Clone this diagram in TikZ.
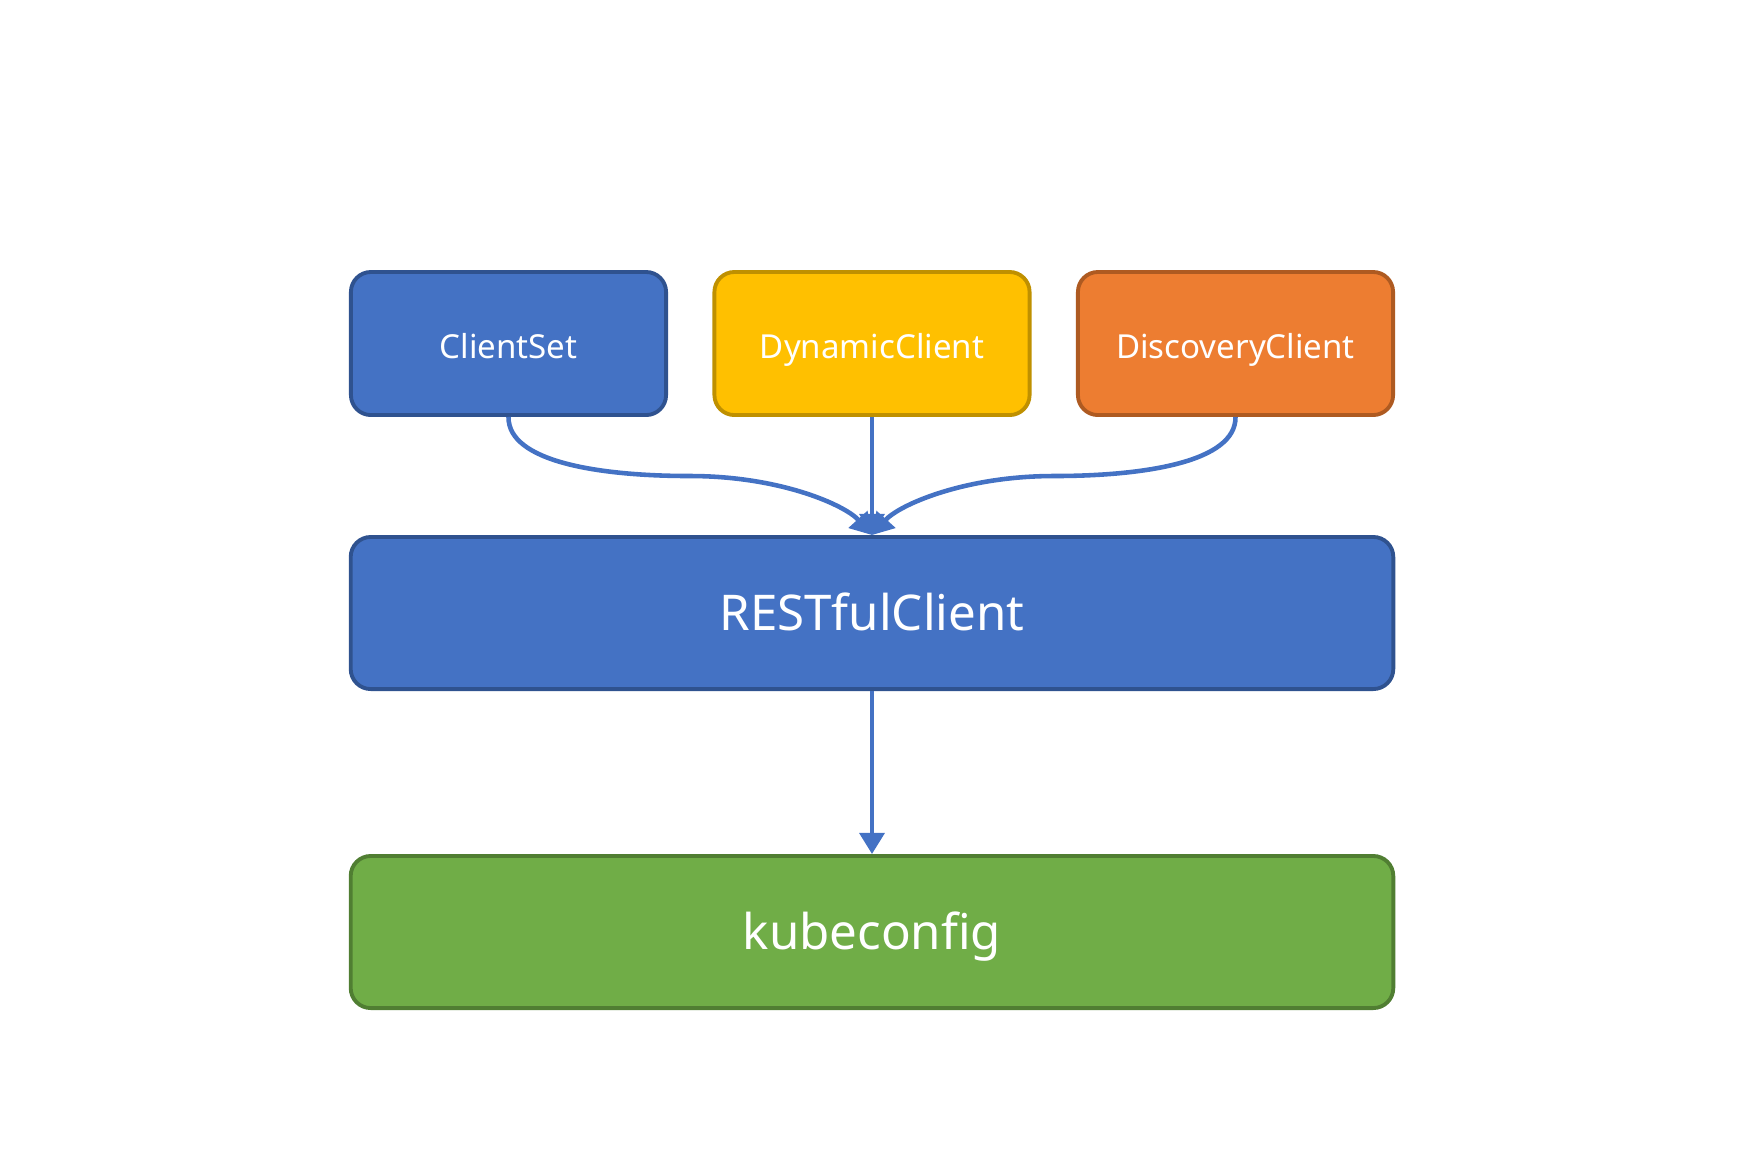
\documentclass[tikz,border=0pt]{standalone}
\usepackage{fontspec}
\setmainfont{Noto Sans}
\usetikzlibrary{arrows.meta}

\definecolor{blueFill}{HTML}{4472C4}
\definecolor{blueLine}{HTML}{2F528F}
\definecolor{yellowFill}{HTML}{FFC000}
\definecolor{yellowLine}{HTML}{BF9000}
\definecolor{orangeFill}{HTML}{ED7D31}
\definecolor{orangeLine}{HTML}{AE5A21}
\definecolor{greenFill}{HTML}{70AD47}
\definecolor{greenLine}{HTML}{507E32}

\tikzset{
    smallbox/.style={draw, line width=1.1pt, rounded corners=0.2cm, text=white,
        minimum width=3.15cm, minimum height=1.43cm, inner sep=0pt,
        text height=1.6ex, text depth=0ex,
        font=\fontsize{9.4}{11}\selectfont},
    bigbox/.style={draw, line width=1.1pt, rounded corners=0.2cm, text=white,
        minimum width=10.42cm, minimum height=1.52cm, inner sep=0pt,
        text height=1.9ex, text depth=0ex,
        font=\fontsize{14}{17}\selectfont},
    link/.style={draw=blueFill, line width=1.3pt, -{Triangle[width=7pt,length=6pt]}}
}

\begin{document}
\begin{tikzpicture}[x=0.01cm,y=-0.01cm]
        \useasboundingbox (0,0) rectangle (1754,1162);
        \node[smallbox, fill=blueFill, draw=blueLine] (clientset) at (508.5,343.5) {ClientSet};
        \node[smallbox, fill=yellowFill, draw=yellowLine] (dynamic) at (872,343.5) {DynamicClient};
        \node[smallbox, fill=orangeFill, draw=orangeLine] (discovery) at (1235.5,343.5) {DiscoveryClient};
        \node[bigbox, fill=blueFill, draw=blueLine] (rest) at (872,613) {RESTfulClient};
        \node[bigbox, fill=greenFill, draw=greenLine] (kube) at (872,932) {kubeconfig};
        \coordinate (midleft) at (690,476);
        \coordinate (midright) at (1054,476);
        \draw[link] (clientset.south) .. controls (508,462) and (600,476) .. (midleft)
            .. controls (780,476) and (845,505) .. (rest.north);
        \draw[link] (discovery.south) .. controls (1236,462) and (1144,476) .. (midright)
            .. controls (964,476) and (899,505) .. (rest.north);
        \draw[link] (dynamic.south) -- (rest.north);
        \draw[link] (rest.south) -- (kube.north);
    \end{tikzpicture}
\end{document}
